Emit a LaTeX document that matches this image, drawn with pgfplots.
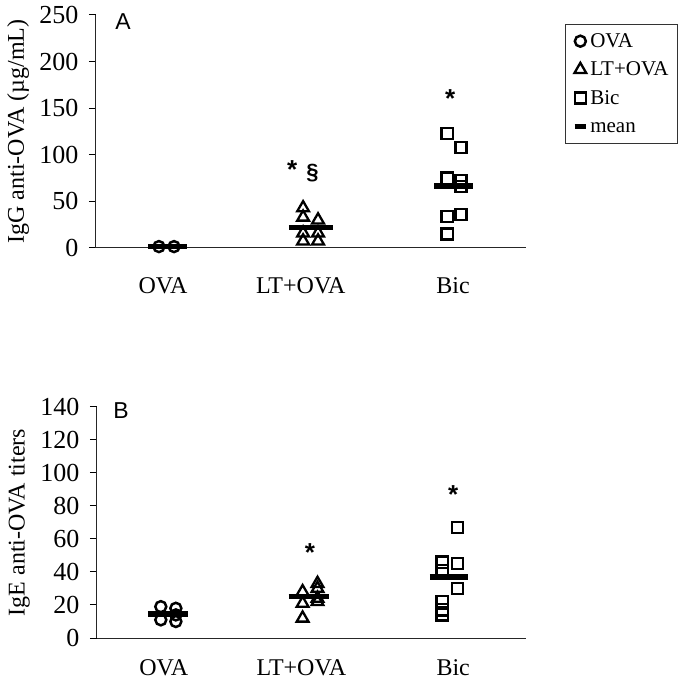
\documentclass[border=0pt]{standalone}
\usepackage{pgfplots}
\pgfplotsset{compat=1.18}
\usepackage{fontspec}
\setmainfont{Liberation Serif}
\setsansfont{Liberation Sans}

\pgfplotsset{
  panel/.style={
    scale only axis, width=430pt,
    axis x line*=bottom, axis y line*=left,
    xmin=0.538, xmax=3.503, ymin=0,
    xtick={1,1.95,3}, xticklabels={OVA,LT+OVA,Bic},
    x tick style={draw=none},
    xticklabel style={font=\fontsize{24}{28}\selectfont, anchor=north, yshift=-12pt},
    yticklabel style={font=\fontsize{26}{30}\selectfont, xshift=-7pt},
    /pgf/number format/assume math mode=true,
    tick align=outside, major tick length=7pt,
    y tick style={line width=1pt, black},
    axis line style={line width=1pt, black!85},
    ylabel style={font=\fontsize{24}{28}\selectfont, at={(axis description cs:-0.181,0.5)}, anchor=center},
    clip=false,
  },
  ovam/.style={only marks, mark=o, mark size=5.5pt, line width=2.5pt, black},
  ltm/.style={only marks, mark=triangle, mark size=6.8pt, line width=2.3pt, black},
  bicm/.style={only marks, mark=square, mark size=5.6pt, line width=2.3pt, black},
  meanl/.style={no marks, line width=5.5pt, black},
  meanleg/.style={legend image code/.code={\draw[line width=4.5pt] (0.1cm,0cm) -- (0.5cm,0cm);}},
}

\begin{document}
\begin{tikzpicture}[x=1pt,y=1pt]
\useasboundingbox (0,0) rectangle (685,688);

% ---------- Panel A ----------
\begin{axis}[panel, at={(96pt,440pt)}, anchor=south west, height=233pt,
  ymax=250, ytick={0,50,100,150,200,250},
  xticklabel style={yshift=-7pt},
  ylabel={IgG anti-OVA (µg/mL)},
  legend style={at={(axis description cs:1.0907,0.961)}, anchor=north west,
    draw=black!80, line width=0.8pt, font=\fontsize{21}{23}\selectfont,
    row sep=9pt, inner xsep=7pt, inner ysep=7pt, cells={anchor=west}},
  legend cell align=left]
\addplot[ovam] coordinates {(0.972,1.5) (1.076,1.5)};
\addlegendentry{OVA}
\addplot[ltm] coordinates {(1.966,43) (1.966,33) (1.966,16) (1.966,7.5) (2.069,30) (2.069,16) (2.069,7.5)};
\addlegendentry{LT+OVA}
\addplot[bicm] coordinates {(2.959,123) (2.959,75) (2.959,34) (2.959,15) (3.055,108) (3.055,72) (3.055,66) (3.055,36)};
\addlegendentry{Bic}
\addplot[meanl, meanleg] coordinates {(0.897,1.5) (1.165,1.5)};
\addlegendentry{mean\vphantom{B}}
\addplot[meanl, forget plot] coordinates {(1.868,22) (2.172,22)};
\addplot[meanl, forget plot] coordinates {(2.869,66.5) (3.137,66.5)};
\node[font=\sffamily\bfseries\fontsize{26}{28}\selectfont, yshift=-5pt] at (axis cs:1.89,89) {*};
\node[font=\sffamily\bfseries\fontsize{22}{24}\selectfont] at (axis cs:2.03,80) {§};
\node[font=\sffamily\bfseries\fontsize{26}{28}\selectfont, yshift=-5pt] at (axis cs:2.98,166) {*};
\end{axis}
\node[font=\sffamily\fontsize{23}{26}\selectfont] at (123,666) {A};

% ---------- Panel B ----------
\begin{axis}[panel, at={(97pt,50pt)}, anchor=south west, width=429pt, height=231pt,
  ymax=140, ytick={0,20,40,60,80,100,120,140},
  xticklabel style={yshift=1pt},
  ylabel={IgE anti-OVA titers}]
\addplot[ovam] coordinates {(0.979,19) (0.979,11) (1.083,18) (1.083,14) (1.083,10)};
\addplot[ltm] coordinates {(1.959,28) (1.959,21) (1.959,12) (2.062,33) (2.062,30) (2.062,24) (2.062,22)};
\addplot[bicm] coordinates {(2.924,46) (2.924,41) (2.924,22) (2.924,17) (2.924,14) (3.028,67) (3.028,45) (3.028,30)};
\addplot[meanl] coordinates {(0.890,14.5) (1.166,14.5)};
\addplot[meanl] coordinates {(1.862,25) (2.138,25)};
\addplot[meanl] coordinates {(2.839,37) (3.101,37)};
\node[font=\sffamily\bfseries\fontsize{26}{28}\selectfont, yshift=-5pt] at (axis cs:2.01,55) {*};
\node[font=\sffamily\bfseries\fontsize{26}{28}\selectfont, yshift=-5pt] at (axis cs:3.0,90) {*};
\end{axis}
\node[font=\sffamily\fontsize{23}{26}\selectfont] at (121,277) {B};
\end{tikzpicture}
\end{document}
